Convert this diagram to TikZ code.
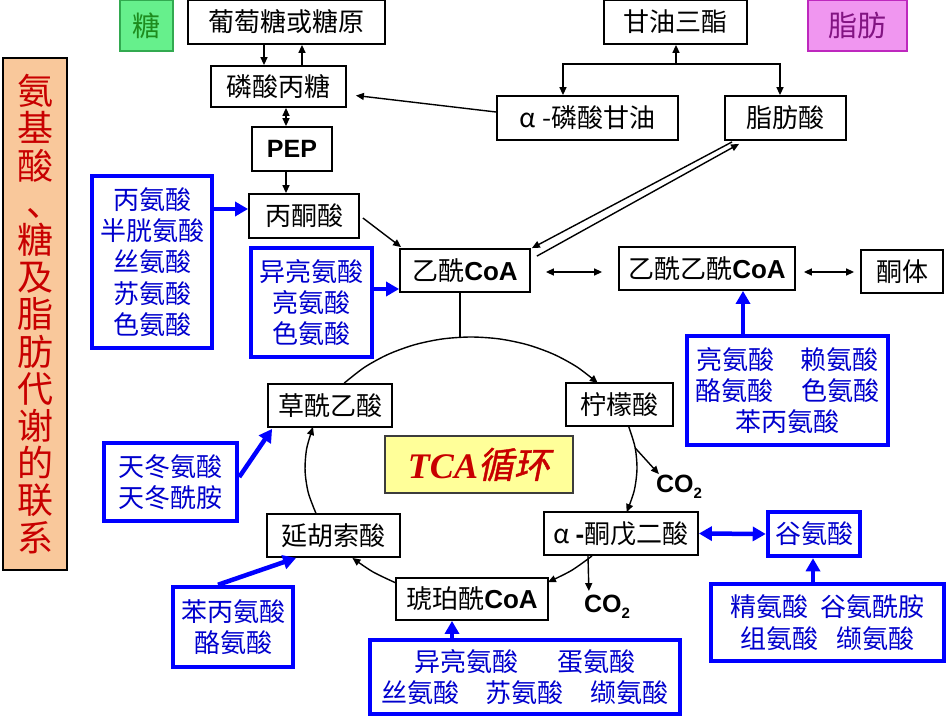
\documentclass[tikz,border=0pt]{standalone}
\usepackage{fontspec}
\setmainfont{Liberation Sans}
\newfontfamily\cjk{Noto Sans CJK SC}
\newfontfamily\cjksl[FakeSlant=0.2,FakeBold=1.2]{Noto Sans CJK SC}
\newfontfamily\tms{Liberation Serif}
\newfontfamily\lsans{Liberation Sans}
\usetikzlibrary{arrows.meta,calc}
\definecolor{bl}{RGB}{0,0,255}
\definecolor{bt}{RGB}{0,0,205}
\definecolor{redt}{RGB}{200,0,0}
\definecolor{peach}{RGB}{249,200,155}
\definecolor{gfill}{RGB}{102,240,140}
\definecolor{gdraw}{RGB}{50,170,80}
\definecolor{gtext}{RGB}{30,140,30}
\definecolor{mfill}{RGB}{240,150,240}
\definecolor{mdraw}{RGB}{190,40,190}
\definecolor{mtext}{RGB}{130,20,130}
\definecolor{yfill}{RGB}{255,255,153}
\definecolor{dgray}{RGB}{60,60,60}
\newcommand\myfs[2]{\fontsize{#1}{#2}\selectfont}
\newcommand\coa{{\lsans\bfseries CoA}}
\tikzset{
  box/.style={draw=black, line width=1.8pt, fill=white, inner sep=0pt, text=black, font=\cjk\myfs{26}{30}},
  bbox/.style={draw=bl, line width=4.5pt, fill=white, inner sep=0pt, align=center, text=bt, font=\cjk\myfs{26}{31.3}},
  arr/.style={line width=1.4pt, -{Triangle[length=8pt,width=7pt]}},
  darr/.style={line width=1.4pt, {Triangle[length=8pt,width=7pt]}-{Triangle[length=8pt,width=7pt]}},
  barr/.style={line width=4.5pt, draw=bl, -{Triangle[length=13pt,width=14pt]}},
  bdarr/.style={line width=4.5pt, draw=bl, {Triangle[length=13pt,width=14pt]}-{Triangle[length=13pt,width=14pt]}},
  cyc/.style={line width=1.4pt, -{Triangle[length=8pt,width=7pt]}},
}
\begin{document}
\begin{tikzpicture}[x=1pt,y=-1pt]
\useasboundingbox (0,0) rectangle (946,717);
\fill[white] (0,0) rectangle (946,717);

% top row
\node[draw=gdraw, fill=gfill, line width=2pt, minimum width=53, minimum height=51, inner sep=0pt, text=gtext, font=\cjk\myfs{28}{30}] (tang) at (146.5,25.5) {糖};
\node[box, minimum width=197, minimum height=44] (ptt) at (286.5,22) {葡萄糖或糖原};
\node[box, minimum width=143, minimum height=44] (gysz) at (675.5,22) {甘油三酯};
\node[draw=mdraw, fill=mfill, line width=2pt, minimum width=99, minimum height=51, inner sep=0pt, text=mtext, font=\cjk\myfs{29}{30}] (zf) at (857.5,25.5) {脂肪};

\node[box, minimum width=135, minimum height=41] (lstang) at (278.5,86.5) {磷酸丙糖};
\node[box, minimum width=181, minimum height=44] (alphagy) at (587.5,118) {α -磷酸甘油};
\node[box, minimum width=121, minimum height=44] (zfs) at (785.5,118) {脂肪酸};
\node[box, minimum width=80, minimum height=44, font=\lsans\bfseries\myfs{25}{30}] (pep) at (292,149) {PEP};
\node[box, minimum width=110, minimum height=44] (bts) at (304,216) {丙酮酸};
\node[box, minimum width=130, minimum height=43] (ysCoA) at (465,270.5) {乙酰\coa};
\node[box, minimum width=176, minimum height=43] (yyCoA) at (707,268.5) {乙酰乙酰\coa};
\node[box, minimum width=82, minimum height=43] (tt) at (902,271.5) {酮体};

% left title
\node[draw=black, fill=peach, line width=2pt, minimum width=64, minimum height=512, inner sep=0pt, align=center, text=redt, font=\cjk\myfs{36}{37.2}] (title) at (35,314)
  {氨\\基\\酸\\\makebox[36pt][c]{\hspace{18pt}、}\\糖\\及\\脂\\肪\\代\\谢\\的\\联\\系};

% blue boxes
\node[bbox, minimum width=120, minimum height=172] (blue1) at (152,262) {丙氨酸\\半胱氨酸\\丝氨酸\\苏氨酸\\色氨酸};
\node[bbox, minimum width=121, minimum height=109] (blue2) at (311.5,302.5) {异亮氨酸\\亮氨酸\\色氨酸};
\node[bbox, minimum width=201, minimum height=109] (bluer) at (787.5,390.5) {亮氨酸\hspace{26pt}赖氨酸\\酪氨酸\hspace{29pt}色氨酸\\苯丙氨酸};
\node[bbox, minimum width=133, minimum height=78] (bluetd) at (170.5,482) {天冬氨酸\\天冬酰胺};
\node[bbox, minimum width=120, minimum height=80] (bluebb) at (233,627) {苯丙氨酸\\酪氨酸};
\node[bbox, minimum width=310, minimum height=74] (bluebot) at (525,677) {异亮氨酸\hspace{39pt}蛋氨酸\\丝氨酸\hspace{27pt}苏氨酸\hspace{27pt}缬氨酸};
\node[bbox, minimum width=92, minimum height=44] (gas) at (814,534) {谷氨酸};
\node[bbox, minimum width=233, minimum height=77] (bluega) at (827.5,622.5) {精氨酸\hspace{12pt}谷氨酰胺\\组氨酸\hspace{19pt}缬氨酸};

% cycle boxes
\node[box, minimum width=124, minimum height=43] (cyxs) at (330,405.5) {草酰乙酸};
\node[box, minimum width=107, minimum height=43] (nms) at (619.5,404.5) {柠檬酸};
\node[draw=dgray, fill=yfill, line width=1.8pt, minimum width=188, minimum height=57, inner sep=0pt, text=redt] (tca) at (479,464.5)
  {{\tms\bfseries\itshape\myfs{36}{40}TCA}{\cjksl\myfs{36}{40}循环}};
\node[box, minimum width=154, minimum height=43] (akg) at (621,533.5) {α {\lsans\bfseries -}酮戊二酸};
\node[box, minimum width=133, minimum height=43] (ghss) at (333.5,535.5) {延胡索酸};
\node[box, minimum width=152, minimum height=42] (hpx) at (472,599) {琥珀酰\coa};
\node[inner sep=0pt, font=\lsans\bfseries\myfs{25}{28}] (co2a) at (679,487) {CO\raisebox{-6pt}{\myfs{15}{15}2}};
\node[inner sep=0pt, font=\lsans\bfseries\myfs{25}{28}] (co2b) at (607,607) {CO\raisebox{-6pt}{\myfs{15}{15}2}};

% black connectors
\draw[arr] (ptt.south -| 264,0) -- (lstang.north -| 264,0);
\draw[arr] (lstang.north -| 302,0) -- (ptt.south -| 302,0);
\draw[darr] (lstang.south -| 286,0) -- (pep.north -| 286,0);
\draw[arr] (pep.south -| 286,0) -- (bts.north -| 286,0);
\draw[arr] ($(bts.east)+(3,2)$) -- ($(ysCoA.north west)+(2,-1)$);
\coordinate (jn) at (676,64);
\draw[arr] (jn) -- (gysz.south -| jn);
\draw[arr] (jn) -| (alphagy.north -| 563,0);
\draw[arr] (jn) -| (zfs.north -| 780,0);
\draw[arr] ($(alphagy.west)+(0,-6)$) -- ($(lstang.east)+(9,9)$);
\draw[arr] ($(zfs.south west)+(8,1)$) -- ($(ysCoA.north east)+(1,0)$);
\draw[arr] ($(ysCoA.north east)+(6,8)$) -- ($(zfs.south west)+(15,3)$);
\draw[darr, shorten <=15pt, shorten >=16pt] (ysCoA.east |- 0,272) -- (yyCoA.west |- 0,272);
\draw[darr, shorten <=8pt, shorten >=6pt] (yyCoA.east |- 0,272) -- (tt.west |- 0,272);
\coordinate (ctop) at (460,337.3);
\draw[line width=1.4pt] (ysCoA.south -| ctop) -- (ctop);

% TCA cycle arcs (ellipse centre 471,467; radii 166,130)
\draw[cyc] plot[smooth, domain=139.8:40.2, samples=11] ({471+166*cos(\x)},{467-130*sin(\x)});
\draw[cyc] plot[smooth, domain=18.4:-20.3, samples=5] ({471+166*cos(\x)},{467-130*sin(\x)});
\draw[cyc] plot[smooth, domain=-43.2:-62.4, samples=3] ({471+166*cos(\x)},{467-130*sin(\x)});
\draw[cyc] plot[smooth, domain=-116.9:-135.6, samples=3] ({471+166*cos(\x)},{467-130*sin(\x)});
\draw[cyc] plot[smooth, domain=201.2:162.1, samples=5] ({471+166*cos(\x)},{467-130*sin(\x)});
\coordinate (c1) at ({471+166*cos(8.4)},{467-130*sin(8.4)});
\draw[arr] (c1) -- ($(co2a.north west)+(3,-1)$);
\draw[arr] (akg.south -| 588,0) -- ($(co2b.north west)+(5,-4)$);

% blue connectors
\draw[barr] (blue1.east |- 0,209) -- (bts.west |- 0,209);
\draw[barr] (blue2.east |- 0,289) -- (ysCoA.west |- 0,289);
\draw[barr] (bluer.north -| 743,0) -- (yyCoA.south -| 743,0);
\draw[barr] (bluetd.east |- 0,477) -- ($(cyxs.south west)+(5,1)$);
\draw[barr] (bluebb.north -| 218,0) -- ($(ghss.south west)+(30,0)$);
\draw[barr] (bluebot.north -| 452,0) -- (hpx.south -| 452,0);
\draw[barr] (bluega.north -| 813,0) -- (gas.south -| 813,0);
\draw[bdarr] (akg.east) -- (gas.west);
\end{tikzpicture}
\end{document}
